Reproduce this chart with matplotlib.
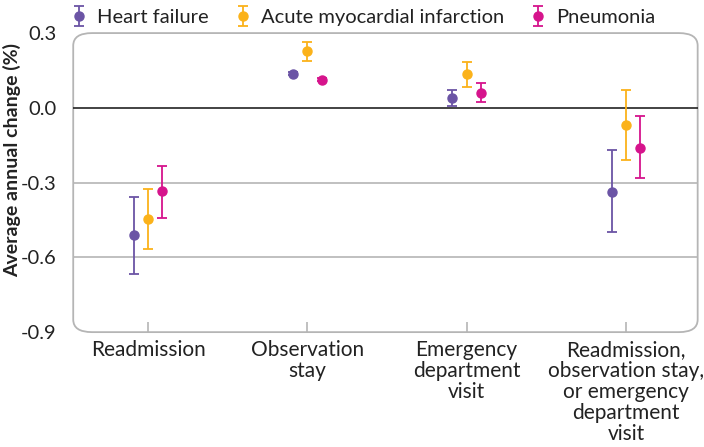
import matplotlib.pyplot as plt
import numpy as np
from matplotlib.patches import FancyBboxPatch

plt.rcParams['font.family'] = ['Lato', 'DejaVu Sans']

# Donnees
categories = ["Readmission", "Observation\nstay", "Emergency\ndepartment\nvisit",
              "Readmission,\nobservation stay,\nor emergency\ndepartment\nvisit"]
series = ["Heart failure", "Acute myocardial infarction", "Pneumonia"]
colors = ["#6B54A5", "#FBB21A", "#D6148C"]

hf_est = [-0.51, 0.136, 0.040, -0.336]
hf_low = [-0.665, 0.130, 0.008, -0.500]
hf_high = [-0.356, 0.143, 0.072, -0.168]

ami_est = [-0.446, 0.228, 0.136, -0.068]
ami_low = [-0.566, 0.188, 0.084, -0.208]
ami_high = [-0.326, 0.264, 0.184, 0.072]

pn_est = [-0.334, 0.112, 0.060, -0.160]
pn_low = [-0.444, 0.106, 0.024, -0.280]
pn_high = [-0.232, 0.118, 0.100, -0.032]

estimates = [hf_est, ami_est, pn_est]
lows = [hf_low, ami_low, pn_low]
highs = [hf_high, ami_high, pn_high]
offsets = [-0.09, 0.0, 0.09]

fig = plt.figure(figsize=(7.04, 4.47), dpi=100)
ax = fig.add_axes([0.104, 0.257, 0.887, 0.669])

x = np.arange(len(categories))
leg_handles = []
for est, lo, hi, col, off in zip(estimates, lows, highs, colors, offsets):
    est = np.array(est)
    yerr = [est - np.array(lo), np.array(hi) - est]
    h = ax.errorbar(x + off, est, yerr=yerr, fmt="o", color=col, ecolor=col,
                    markersize=6.5, elinewidth=1.3, capsize=3.8, capthick=1.3, zorder=3)
    leg_handles.append(h)

ax.set_xlim(-0.47, 3.45)
ax.set_ylim(-0.9, 0.3)
ax.set_yticks([0.3, 0.0, -0.3, -0.6, -0.9])
ax.set_yticklabels(["0.3", "0.0", "-0.3", "-0.6", "-0.9"])
ax.set_xticks(x)
ax.set_xticklabels(categories, fontsize=15, color="#222222", linespacing=1.06)

for gy in [-0.3, -0.6]:
    ax.axhline(gy, color="#b5b5b5", lw=1.2, zorder=1)
ax.axhline(0.0, color="#222222", lw=1.2, zorder=2)

for s in ax.spines.values():
    s.set_visible(False)
ax.tick_params(axis="y", length=0, labelsize=14.5, labelcolor="#222222", pad=12)
ax.tick_params(axis="x", direction="in", length=7, color="#b5b5b5", width=1.2, pad=6)

# Cadre arrondi
frame = FancyBboxPatch((0, 0), 1, 1, boxstyle="round,pad=0,rounding_size=0.03",
                       transform=ax.transAxes, fill=False, ec="#b5b5b5", lw=1.3,
                       clip_on=False, zorder=1, mutation_aspect=1.4)
ax.add_patch(frame)

ax.set_ylabel("Average annual change (%)", fontsize=14, fontweight="bold",
              color="#222222")
ax.yaxis.set_label_coords(-0.083, 0.575)

fig.legend(leg_handles, series, loc="upper left", bbox_to_anchor=(0.073, 1.02),
           ncol=3, frameon=False, fontsize=14.5, handlelength=0.9,
           handletextpad=0.45, columnspacing=1.25, labelcolor="#222222")

fig.savefig("out.png", dpi=100)
